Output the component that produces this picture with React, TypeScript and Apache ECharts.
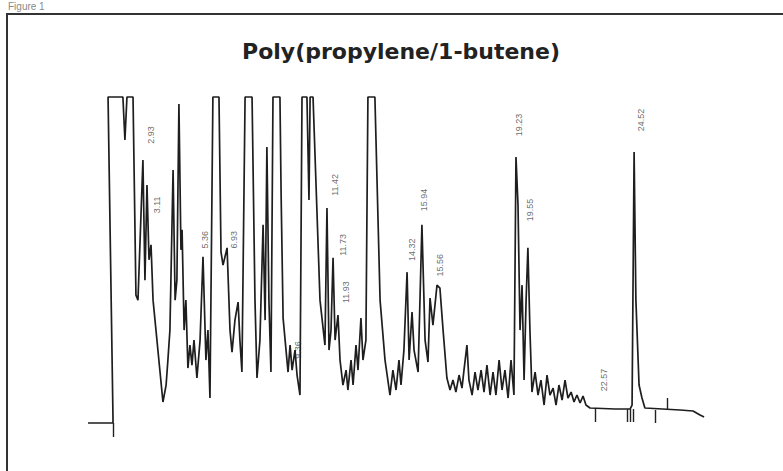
import React, { useEffect, useRef } from "react";
import * as echarts from "echarts";

// Retention time (min) of each trace vertex
const retentionTimes: number[] = [
  0.09, 1.2, 1.2, 0.98, 1.64, 1.73, 1.82, 2.09, 2.22, 2.31, 2.53, 2.62, 2.71, 2.8, 2.89, 2.98,
  3.42, 3.56, 3.64, 3.73, 3.87, 3.96, 4.04, 4.13, 4.22, 4.27, 4.36, 4.44, 4.53, 4.62, 4.71, 4.8,
  4.93, 5.07, 5.2, 5.33, 5.42, 5.51, 5.64, 5.91, 6.0, 6.09, 6.27, 6.4, 6.49, 6.62, 6.76, 6.84,
  6.93, 7.07, 7.38, 7.51, 7.6, 7.73, 7.87, 7.96, 8.04, 8.13, 8.22, 8.31, 8.62, 8.67, 8.76, 8.89,
  8.98, 9.07, 9.16, 9.29, 9.38, 9.51, 9.6, 9.82, 9.91, 9.96, 10.09, 10.4, 10.62, 10.71, 10.8, 10.89,
  10.98, 11.07, 11.2, 11.29, 11.42, 11.56, 11.64, 11.78, 11.87, 12.0, 12.09, 12.22, 12.31, 12.44,
  12.53, 12.84, 13.07, 13.29, 13.51, 13.64, 13.78, 13.91, 14.0, 14.13, 14.27, 14.36, 14.49, 14.58,
  14.76, 14.93, 15.07, 15.2, 15.29, 15.42, 15.6, 15.73, 15.87, 16.04, 16.18, 16.31, 16.44, 16.58,
  16.71, 16.8, 16.93, 17.02, 17.16, 17.29, 17.42, 17.56, 17.69, 17.82, 17.96, 18.09, 18.22, 18.36,
  18.49, 18.62, 18.76, 18.89, 19.02, 19.11, 19.2, 19.29, 19.38, 19.47, 19.56, 19.64, 19.73, 19.82,
  19.96, 20.09, 20.22, 20.36, 20.49, 20.62, 20.76, 20.89, 21.02, 21.16, 21.29, 21.42, 21.56, 21.69,
  21.82, 21.96, 22.09, 22.22, 22.4, 23.51, 24.18, 24.27, 24.36, 24.44, 24.58, 24.71, 24.84, 26.4,
  26.98, 27.29, 27.47,
];

// Detector response (% of full scale, clipped at 100) of each trace vertex
const responses: number[] = [
  2.1, 2.1, 3.6, 100, 100, 87.1, 100, 100, 40.5, 39.0, 81.1, 45.0, 73.6, 51.1, 55.6, 39.0,
  8.4, 13.5, 21.0, 30.0, 78.1, 39.0, 45.0, 97.9, 54.1, 60.1, 30.0, 39.0, 18.6, 25.5, 19.5, 27.0,
  15.6, 27.0, 52.0, 21.0, 30.0, 9.6, 100, 100, 53.5, 49.5, 54.7, 30.0, 23.4, 33.0, 38.4, 27.0,
  17.4, 100, 100, 39.0, 15.6, 27.0, 61.6, 33.0, 85.0, 39.0, 17.4, 100, 100, 71.5, 33.6, 24.0,
  17.4, 25.5, 18.0, 24.0, 16.5, 10.5, 100, 100, 69.1, 100, 100, 39.0, 25.5, 66.7, 24.0, 30.0,
  51.7, 27.0, 34.5, 21.0, 13.5, 18.0, 12.0, 21.0, 13.5, 25.5, 18.0, 33.6, 21.0, 27.0,
  100, 100, 39.0, 21.0, 10.5, 18.0, 12.0, 21.0, 13.5, 24.0, 47.4, 21.0, 35.4, 24.0,
  17.4, 61.6, 27.0, 20.4, 39.6, 31.5, 43.5, 42.6, 30.0, 15.6, 12.0, 15.0, 11.4, 16.5,
  12.6, 18.0, 25.5, 15.0, 10.5, 17.4, 12.0, 18.0, 11.4, 19.5, 10.5, 17.4, 10.5, 21.0,
  12.0, 18.0, 9.6, 21.0, 10.5, 82.0, 67.6, 30.0, 43.5, 15.0, 39.0, 54.7, 30.0, 11.4,
  17.4, 10.5, 15.0, 7.5, 16.5, 10.5, 12.6, 7.5, 13.5, 9.0, 15.0, 9.6, 11.4, 8.4,
  10.5, 8.1, 10.2, 7.5, 6.6, 6.3, 6.3, 7.5, 83.5, 39.0, 13.5, 9.6, 6.6, 6.0,
  5.7, 4.5, 3.9,
];

// Integration event marks: time, start response, end response
const markTimes: number[] = [1.2, 22.62, 24.04, 24.18, 24.31, 25.29, 25.82];
const markFrom: number[] = [2.1, 6.3, 6.3, 6.3, 6.3, 6.0, 6.0];
const markTo: number[] = [-2.1, 2.4, 2.4, 2.4, 2.4, 2.1, 9.6];

// Peak annotations (retention time printed by the integrator)
const peakLabels: string[] = [
  "2.93", "3.11", "5.36", "6.93", "9.36", "11.42", "11.73", "11.93",
  "14.32", "15.94", "15.56", "19.23", "19.55", "22.57", "24.52",
];
const peakLabelTimes: number[] = [
  2.89, 3.16, 5.29, 6.58, 9.42, 11.07, 11.42, 11.56, 14.49, 15.02, 15.73, 19.24, 19.73, 23.02, 24.67,
];
const peakLabelLevels: number[] = [
  88.6, 67.6, 57.1, 57.1, 24.0, 73.6, 55.6, 41.4, 54.1, 69.1, 49.5, 91.6, 66.1, 15.0, 93.1,
];

const TITLE = "Poly(propylene/1-butene)";
const FIGURE_CAPTION = "Figure 1";

export default function App() {
  const ref = useRef<HTMLDivElement>(null);

  useEffect(() => {
    if (!ref.current) return;
    const chart = echarts.init(ref.current, undefined, { renderer: "svg" });

    const trace = retentionTimes.map((t, i) => [t, responses[i]]);
    const marks = markTimes.map((t, i) => [
      { coord: [t, markFrom[i]] },
      { coord: [t, markTo[i]] },
    ]);
    const labels = peakLabels.map((name, i) => ({
      name,
      value: [peakLabelTimes[i], peakLabelLevels[i]],
    }));

    chart.setOption({
      animation: false,
      backgroundColor: "#ffffff",
      grid: { left: 86, right: 67, top: 97, bottom: 7.7 },
      xAxis: { type: "value", min: 0, max: 28, show: false },
      yAxis: { type: "value", min: -10, max: 100, show: false },
      graphic: [
        {
          type: "text",
          left: 8,
          top: 1,
          style: { text: FIGURE_CAPTION, fontSize: 10, fontFamily: "Liberation Sans", fill: "#8a8a8a" },
        },
        {
          type: "line",
          shape: { x1: 6, y1: 14, x2: 783, y2: 14 },
          style: { stroke: "#333", lineWidth: 2 },
        },
        {
          type: "line",
          shape: { x1: 7, y1: 14, x2: 7, y2: 471 },
          style: { stroke: "#333", lineWidth: 2 },
        },
        {
          type: "text",
          x: 401,
          y: 51,
          style: {
            text: TITLE,
            fontSize: 22,
            fontWeight: "bold",
            fontFamily: "DejaVu Sans",
            fill: "#222",
            align: "center",
            verticalAlign: "middle",
          },
        },
      ],
      series: [
        {
          type: "line",
          data: trace,
          showSymbol: false,
          clip: false,
          lineStyle: { color: "#1e1e1e", width: 1.7 },
          markLine: {
            silent: true,
            symbol: "none",
            label: { show: false },
            lineStyle: { color: "#222", width: 1.4, type: "solid" },
            data: marks,
          },
        },
        {
          type: "scatter",
          data: labels,
          symbolSize: 0,
          silent: true,
          label: {
            show: true,
            formatter: (p: any) => p.name,
            rotate: 90,
            position: "inside",
            fontSize: 9,
            fontFamily: "Liberation Sans",
            color: "#444",
          },
        },
      ],
    });

    return () => chart.dispose();
  }, []);

  return (
    <div
      ref={ref}
      style={{ position: "fixed", left: 0, top: 0, width: 783, height: 471 }}
    />
  );
}
